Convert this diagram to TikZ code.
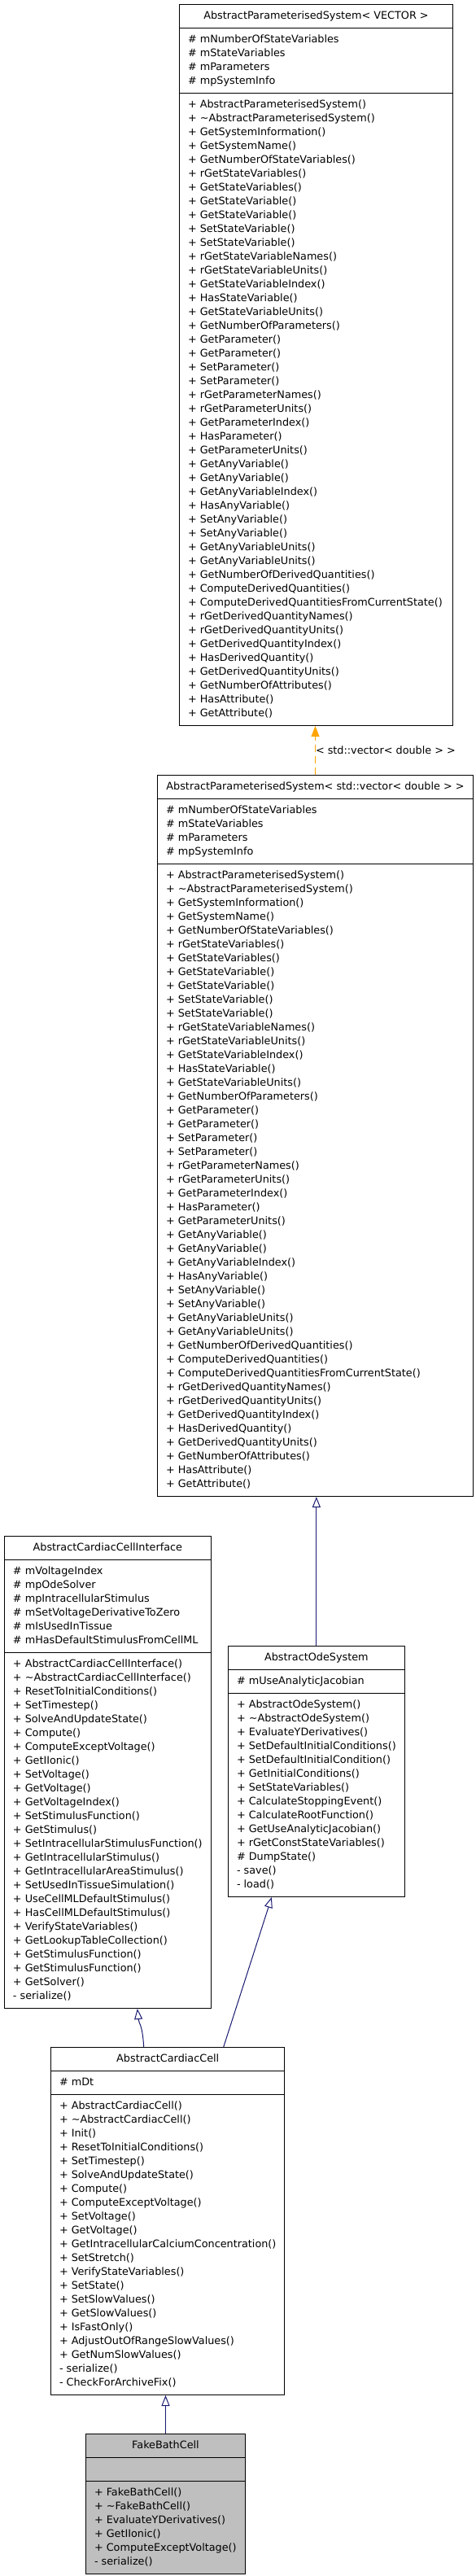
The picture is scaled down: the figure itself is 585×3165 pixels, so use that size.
\documentclass[tikz,border=0pt]{standalone}
\usepackage{fontspec}
\setmainfont{DejaVu Sans}
\usetikzlibrary{shapes.multipart,arrows.meta}

\definecolor{edgeblue}{HTML}{191970}
\definecolor{edgeorange}{HTML}{FFA500}
\definecolor{boxgray}{HTML}{BFBFBF}

\newcommand{\members}[1]{\strut#1\strut}
\newcommand{\psattrs}{\members{\# mNumberOfStateVariables\\\# mStateVariables\\\# mParameters\\\# mpSystemInfo}}
\newcommand{\psops}{\members{+ AbstractParameterisedSystem()\\
+ \textasciitilde AbstractParameterisedSystem()\\
+ GetSystemInformation()\\
+ GetSystemName()\\
+ GetNumberOfStateVariables()\\
+ rGetStateVariables()\\
+ GetStateVariables()\\
+ GetStateVariable()\\
+ GetStateVariable()\\
+ SetStateVariable()\\
+ SetStateVariable()\\
+ rGetStateVariableNames()\\
+ rGetStateVariableUnits()\\
+ GetStateVariableIndex()\\
+ HasStateVariable()\\
+ GetStateVariableUnits()\\
+ GetNumberOfParameters()\\
+ GetParameter()\\
+ GetParameter()\\
+ SetParameter()\\
+ SetParameter()\\
+ rGetParameterNames()\\
+ rGetParameterUnits()\\
+ GetParameterIndex()\\
+ HasParameter()\\
+ GetParameterUnits()\\
+ GetAnyVariable()\\
+ GetAnyVariable()\\
+ GetAnyVariableIndex()\\
+ HasAnyVariable()\\
+ SetAnyVariable()\\
+ SetAnyVariable()\\
+ GetAnyVariableUnits()\\
+ GetAnyVariableUnits()\\
+ GetNumberOfDerivedQuantities()\\
+ ComputeDerivedQuantities()\\
+ ComputeDerivedQuantitiesFromCurrentState()\\
+ rGetDerivedQuantityNames()\\
+ rGetDerivedQuantityUnits()\\
+ GetDerivedQuantityIndex()\\
+ HasDerivedQuantity()\\
+ GetDerivedQuantityUnits()\\
+ GetNumberOfAttributes()\\
+ HasAttribute()\\
+ GetAttribute()}}

\begin{document}
\begin{tikzpicture}[x=1pt,y=-1pt,font=\fontsize{12.8}{17}\selectfont,
  cls/.style={draw,line width=1pt,fill=white,rectangle split,rectangle split parts=3,
    rectangle split part align={center,left,left},
    inner xsep=10.5pt,inner ysep=5.5pt,anchor=north west,align=left},
  inherit/.style={edgeblue,line width=1pt,-{Triangle[open,length=13pt,width=10pt]}},
  templ/.style={edgeorange,line width=1pt,dash pattern=on 9pt off 5pt,-{Triangle[length=13pt,width=10pt]}}]

\useasboundingbox (0,0) rectangle (585,3165);

\node[cls,minimum width=336pt] (ps) at (220,5) {\members{AbstractParameterisedSystem< VECTOR >}
\nodepart{two}\psattrs
\nodepart{three}\psops};

\node[cls,minimum width=388pt] (psv) at (193,952) {\members{AbstractParameterisedSystem< std::vector< double > >}
\nodepart{two}\psattrs
\nodepart{three}\psops};

\node[cls,minimum width=253pt] (ci) at (5,1887) {\members{AbstractCardiacCellInterface}
\nodepart{two}\members{\# mVoltageIndex\\\# mpOdeSolver\\\# mpIntracellularStimulus\\\# mSetVoltageDerivativeToZero\\\# mIsUsedInTissue\\\# mHasDefaultStimulusFromCellML}
\nodepart{three}\members{+ AbstractCardiacCellInterface()\\
+ \textasciitilde AbstractCardiacCellInterface()\\
+ ResetToInitialConditions()\\
+ SetTimestep()\\
+ SolveAndUpdateState()\\
+ Compute()\\
+ ComputeExceptVoltage()\\
+ GetIIonic()\\
+ SetVoltage()\\
+ GetVoltage()\\
+ GetVoltageIndex()\\
+ SetStimulusFunction()\\
+ GetStimulus()\\
+ SetIntracellularStimulusFunction()\\
+ GetIntracellularStimulus()\\
+ GetIntracellularAreaStimulus()\\
+ SetUsedInTissueSimulation()\\
+ UseCellMLDefaultStimulus()\\
+ HasCellMLDefaultStimulus()\\
+ VerifyStateVariables()\\
+ GetLookupTableCollection()\\
+ GetStimulusFunction()\\
+ GetStimulusFunction()\\
+ GetSolver()\\
- serialize()}};

\node[cls,minimum width=216pt] (ode) at (280,2022) {\members{AbstractOdeSystem}
\nodepart{two}\members{\# mUseAnalyticJacobian}
\nodepart{three}\members{+ AbstractOdeSystem()\\
+ \textasciitilde AbstractOdeSystem()\\
+ EvaluateYDerivatives()\\
+ SetDefaultInitialConditions()\\
+ SetDefaultInitialCondition()\\
+ GetInitialConditions()\\
+ SetStateVariables()\\
+ CalculateStoppingEvent()\\
+ CalculateRootFunction()\\
+ GetUseAnalyticJacobian()\\
+ rGetConstStateVariables()\\
\# DumpState()\\
- save()\\
- load()}};

\node[cls,minimum width=285pt] (cc) at (62,2515) {\members{AbstractCardiacCell}
\nodepart{two}\members{\# mDt}
\nodepart{three}\members{+ AbstractCardiacCell()\\
+ \textasciitilde AbstractCardiacCell()\\
+ Init()\\
+ ResetToInitialConditions()\\
+ SetTimestep()\\
+ SolveAndUpdateState()\\
+ Compute()\\
+ ComputeExceptVoltage()\\
+ SetVoltage()\\
+ GetVoltage()\\
+ GetIntracellularCalciumConcentration()\\
+ SetStretch()\\
+ VerifyStateVariables()\\
+ SetState()\\
+ SetSlowValues()\\
+ GetSlowValues()\\
+ IsFastOnly()\\
+ AdjustOutOfRangeSlowValues()\\
+ GetNumSlowValues()\\
- serialize()\\
- CheckForArchiveFix()}};

\node[cls,fill=boxgray,minimum width=196pt] (fb) at (105,2990) {\members{FakeBathCell}
\nodepart{two}\members{}
\nodepart{three}\members{+ FakeBathCell()\\
+ \textasciitilde FakeBathCell()\\
+ EvaluateYDerivatives()\\
+ GetIIonic()\\
+ ComputeExceptVoltage()\\
- serialize()}};

\draw[templ] (psv.north) -- (psv.north |- ps.south)
  node[midway,anchor=west,inner sep=0pt,text=black] {< std::vector< double > >};
\draw[inherit] (ode.north) -- (ode.north |- psv.south);
\draw[inherit] ([xshift=-29.5pt]cc.north) .. controls +(-2,-30) and +(2,20) .. ([xshift=36.5pt]ci.south);
\draw[inherit] ([xshift=68.5pt]cc.north) -- ([xshift=-55pt]ode.south);
\draw[inherit] (fb.north) -- (fb.north |- cc.south);

\end{tikzpicture}
\end{document}
